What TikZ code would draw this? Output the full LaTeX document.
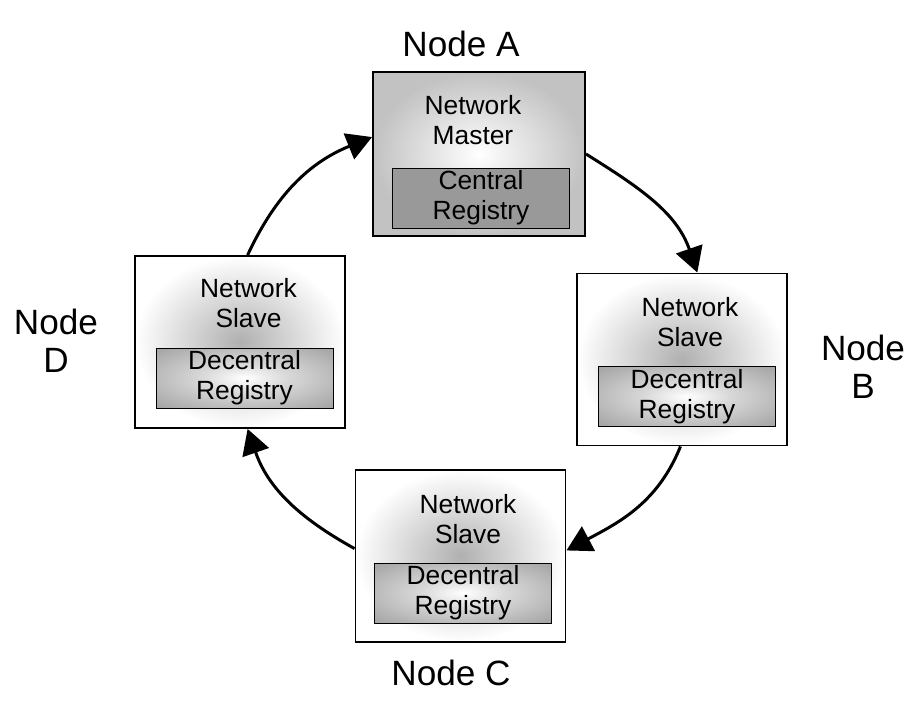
\documentclass[tikz,border=0pt]{standalone}
\usepackage{fontspec}
\setmainfont{Liberation Sans}
\usetikzlibrary{arrows.meta}

\pgfdeclareradialshading{regshade}{\pgfpoint{0bp}{0bp}}{%
    color(0bp)=(white); color(12bp)=(gray!30); color(35bp)=(gray!72); color(50bp)=(gray!78)}

\begin{document}
\begin{tikzpicture}[x=0.02cm, y=0.02cm,
        masterbox/.style={draw, line width=1.1pt, minimum width=4.24cm, minimum height=3.28cm,
            shading=radial, inner color=white, outer color=gray!48},
        slavebox/.style={draw, line width=1.1pt, minimum width=4.2cm, minimum height=3.44cm,
            shading=radial, inner color=gray!62, outer color=white},
        regbox/.style={draw, line width=0.5pt, minimum width=3.54cm, minimum height=1.2cm,
            inner sep=0pt, align=center, font=\fontsize{15}{17}\selectfont},
        centralreg/.style={regbox, fill=gray!80},
        decentralreg/.style={regbox, shading=regshade},
        boxtext/.style={align=center, font=\fontsize{15}{17}\selectfont},
        nodelabel/.style={align=center, font=\fontsize{20}{21.5}\selectfont},
        ring/.style={line width=1.7pt, -{Triangle[length=0.5cm, width=0.55cm]}}]
    \useasboundingbox (0, 0) rectangle (920, -716);

    % Node A
    \node[masterbox] at (479, -154)(a){};
        \node[boxtext] at (473, -120)(ta){Network\\Master};
        \node[centralreg] at (481, -198)(ra){Central\\Registry};
    % Node B
    \node[slavebox] at (682, -359.5)(b){};
        \node[boxtext] at (690, -322)(tb){Network\\Slave};
        \node[decentralreg] at (687, -396.5)(rb){Decentral\\Registry};
    % Node C
    \node[slavebox] at (460.5, -556)(c){};
        \node[boxtext] at (468, -519)(tc){Network\\Slave};
        \node[decentralreg] at (463, -593)(rc){Decentral\\Registry};
    % Node D
    \node[slavebox] at (240, -342)(d){};
        \node[boxtext] at (248.5, -303)(td){Network\\Slave};
        \node[decentralreg] at (244.5, -378)(rd){Decentral\\Registry};

    \node[nodelabel] at (461, -44)(la){Node A};
    \node[nodelabel] at (863, -367)(lb){Node\\B};
    \node[nodelabel] at (451, -673)(lc){Node C};
    \node[nodelabel] at (56, -341)(ld){Node\\D};

    \draw[ring] (d.85) to[out=65, in=202] (a.171);
    \draw[ring] (a.0) to[out=-32, in=109] (b.80);
    \draw[ring] (b.269) to[out=248, in=28] (c.3);
    \draw[ring] (c.176) to[out=151, in=-71] (d.275);
\end{tikzpicture}
\end{document}
